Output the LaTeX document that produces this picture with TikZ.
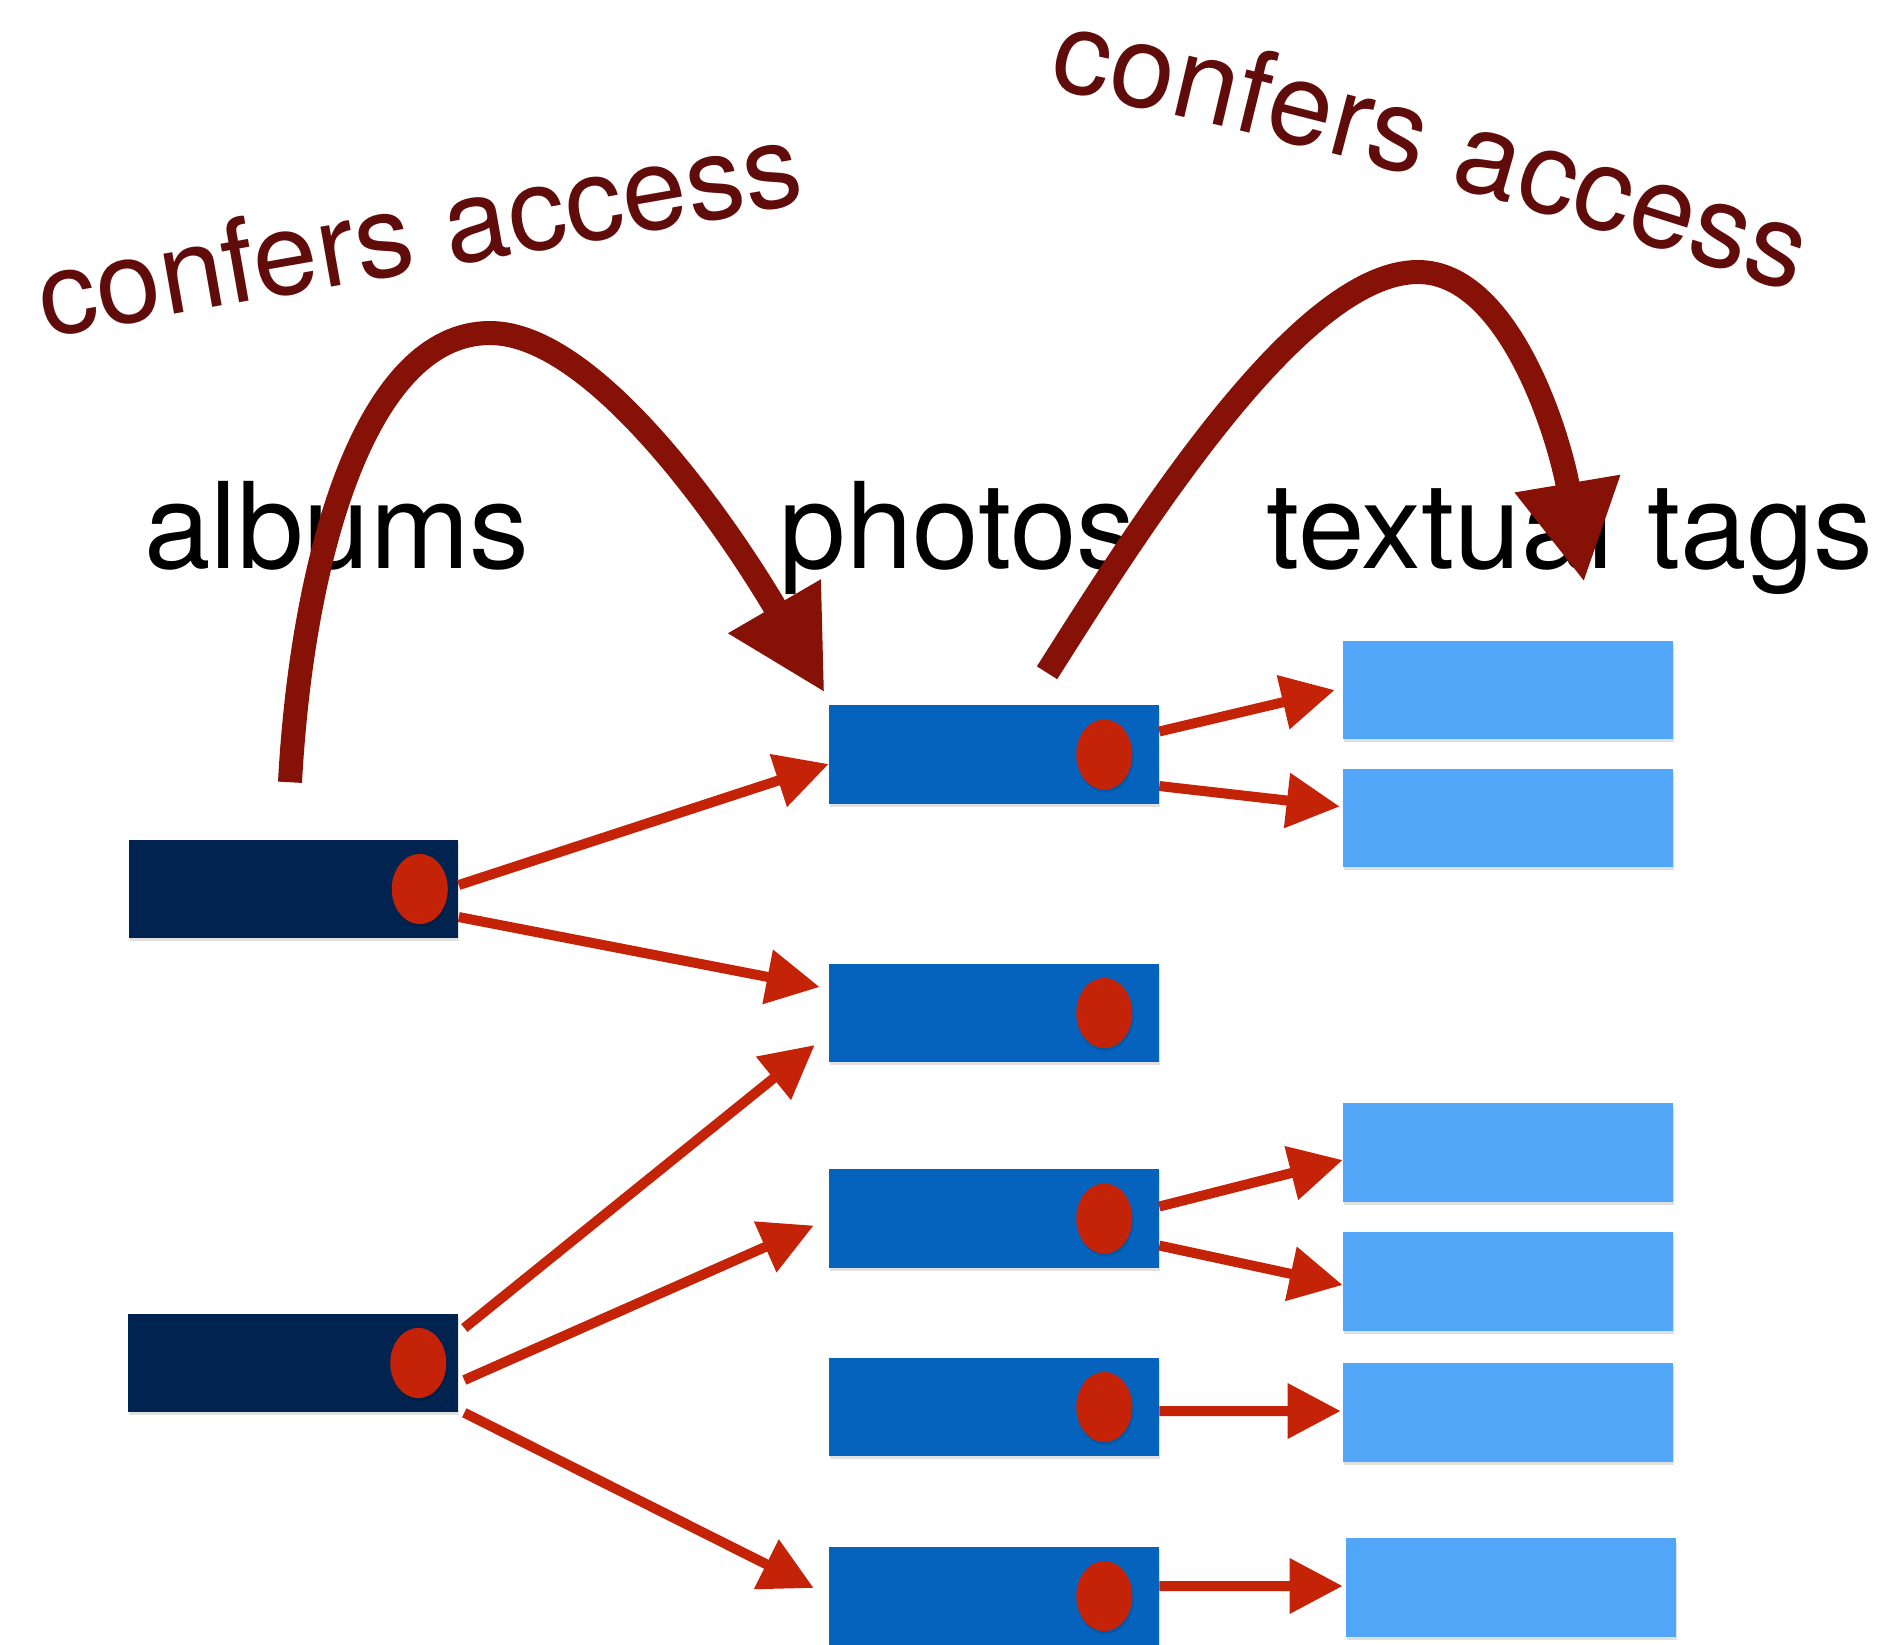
\documentclass[tikz,border=0pt]{standalone}
\usepackage{fontspec}
\setmainfont{TeX Gyre Heros}
\usetikzlibrary{arrows.meta,shapes.geometric,shadows,decorations.text}
\definecolor{albumblue}{RGB}{1,35,80}
\definecolor{photoblue}{RGB}{5,99,189}
\definecolor{tagblue}{RGB}{82,166,248}
\definecolor{dotred}{RGB}{197,35,8}
\definecolor{grantred}{RGB}{134,17,6}
\definecolor{confred}{RGB}{95,12,10}
\tikzset{
  softshadow/.style={drop shadow={shadow xshift=0.01cm,shadow yshift=-0.03cm,opacity=0.12,fill=black}},
  album/.style={rectangle,fill=albumblue,minimum width=3.29cm,minimum height=0.98cm,inner sep=0pt,softshadow},
  photo/.style={album,fill=photoblue},
  tagbox/.style={album,fill=tagblue},
  dot/.style={ellipse,fill=dotred,minimum width=0.56cm,minimum height=0.70cm,inner sep=0pt,softshadow},
  link/.style={draw=dotred,line width=0.1cm,-{Triangle[length=0.53cm,width=0.53cm]}},
  grant/.style={draw=grantred,line width=0.24cm,-{Triangle[length=1.0cm,width=1.0cm]}},
  heading/.style={font=\fontsize{34}{40}\selectfont,anchor=base,inner sep=0pt},
  confer/.style={font=\fontsize{33}{40}\selectfont,text=confred,anchor=base,inner sep=0pt}
}
\begin{document}
\begin{tikzpicture}[x=0.01cm,y=-0.01cm]
   \useasboundingbox (0,0) rectangle (1896,1644);
   \node[heading] (albums) at (337,568) {albums};
   \node[heading] (photos) at (958,568) {photos};
   \node[heading] (tags) at (1570,568) {textual tags};
   \node[confer,rotate=10] (conf1) at (426,270) {confers access};
   \path[decorate,decoration={text along path,text align=center,text color=confred,
      text={|\fontsize{33}{40}\selectfont|confers access}}]
      (1000,78) .. controls (1280,132) and (1560,212) .. (1840,308);
   \node[album] (alb1) at (293.5,889) {};
   \node[album] (alb2) at (293,1363) {};
   \node[photo] (ph1) at (994,754.5) {};
   \node[photo] (ph2) at (994,1013) {};
   \node[photo] (ph3) at (994,1218.5) {};
   \node[photo] (ph4) at (994,1407) {};
   \node[photo] (ph5) at (994,1596) {};
   \node[tagbox] (tg1) at (1508,690) {};
   \node[tagbox] (tg2) at (1508,818) {};
   \node[tagbox] (tg3) at (1508,1152.5) {};
   \node[tagbox] (tg4) at (1508,1281.5) {};
   \node[tagbox] (tg5) at (1508,1412.5) {};
   \node[tagbox] (tg6) at (1511,1587.5) {};
   \node[dot] (dalb1) at ([xshift=-0.39cm]alb1.east) {};
   \node[dot] (dalb2) at ([xshift=-0.40cm]alb2.east) {};
   \foreach \p in {ph1,ph2,ph3,ph4,ph5}
      \node[dot] (d\p) at ([xshift=-0.55cm]\p.east) {};
   \draw[link] ([yshift=0.04cm]alb1.east) -- ([yshift=-0.095cm]ph1.west);
   \draw[link] ([yshift=-0.28cm]alb1.east) -- ([xshift=-0.09cm,yshift=0.26cm]ph2.west);
   \draw[link] ([xshift=0.06cm,yshift=0.35cm]alb2.east) -- ([xshift=-0.14cm,yshift=-0.32cm]ph2.west);
   \draw[link] ([xshift=0.06cm,yshift=-0.17cm]alb2.east) -- ([xshift=-0.15cm,yshift=-0.07cm]ph3.west);
   \draw[link] ([xshift=0.06cm]alb2.south east) -- ([xshift=-0.15cm,yshift=0.08cm]ph5.west);
   \draw[link] ([yshift=0.23cm]ph1.east) -- ([xshift=-0.08cm]tg1.west);
   \draw[link] ([yshift=-0.315cm]ph1.east) -- ([xshift=-0.03cm,yshift=0.115cm]tg2.west);
   \draw[link] ([yshift=0.12cm]ph3.east) -- ([yshift=-0.075cm]tg3.west);
   \draw[link] ([yshift=-0.27cm]ph3.east) -- ([yshift=-0.035cm]tg4.west);
   \draw[link] ([yshift=-0.04cm]ph4.east) -- ([xshift=-0.02cm,yshift=0.015cm]tg5.west);
   \draw[link] ([yshift=0.10cm]ph5.east) -- ([xshift=-0.03cm,yshift=0.015cm]tg6.west);
   \coordinate (peak1) at (490,333);
   \coordinate (peak2) at (1418,272);
   \draw[grant] ([xshift=-0.035cm,yshift=0.57cm]alb1.north) .. controls +(12,-223) and +(-125,0) .. (peak1)
      .. controls +(110,0) and +(-86,-148) .. ([xshift=-0.04cm,yshift=0.12cm]ph1.north west);
   \draw[grant] ([xshift=0.53cm,yshift=0.32cm]ph1.north) .. controls +(95,-150) and +(-118,0) .. (peak2)
      .. controls +(92,0) and +(-24,-143) .. ([xshift=0.76cm,yshift=0.58cm]tg1.north);
\end{tikzpicture}
\end{document}
